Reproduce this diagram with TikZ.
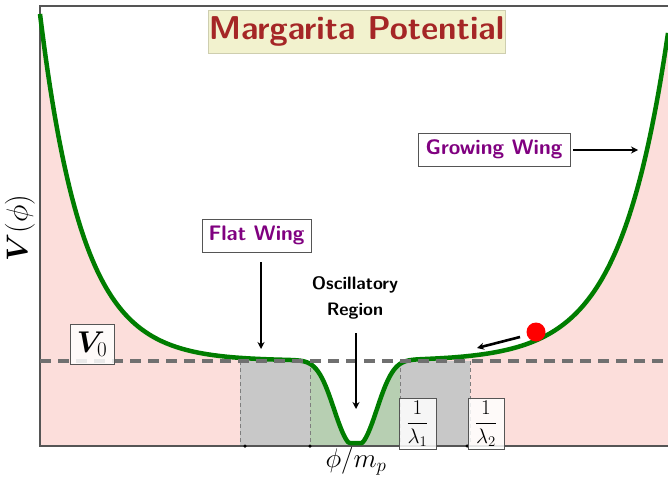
\RequirePackage{fix-cm}
\documentclass[tikz,border=0pt]{standalone}
\usepackage{fontspec}
\usepackage{amsmath,bm}
\usetikzlibrary{arrows.meta}
\definecolor{pinkc}{RGB}{252,222,219}
\definecolor{greenfill}{RGB}{183,207,178}
\definecolor{grayfill}{RGB}{200,200,200}
\definecolor{curvec}{RGB}{0,125,0}
\definecolor{dashc}{RGB}{112,112,112}
\definecolor{titlec}{RGB}{165,38,38}
\definecolor{titlebg}{RGB}{242,242,206}
\definecolor{wingc}{RGB}{128,0,128}
\definecolor{framec}{RGB}{85,85,85}
\begin{document}
\begin{tikzpicture}[x=1pt,y=-1pt,
  declare function={
    V(\t)=min(361-347*exp(-(\t-40)/42.5)-328*exp((\t-668)/47.7)+86*exp(max(-20,-pow((abs(\t-355.5)+0.01)/27.5,2.3))),443);
  },
  curve/.style={draw=curvec,line width=4.5pt,line join=round},
  vdash/.style={draw=dashc!90,line width=0.8pt,dash pattern=on 4pt off 3pt},
  hdash/.style={draw=dashc,line width=3.5pt,dash pattern=on 11pt off 7pt},
  wingbox/.style={draw=framec,fill=white,line width=0.8pt,text=wingc,font=\fontsize{21}{25}\sffamily\bfseries,inner sep=0pt},
  mathbox/.style={draw=framec,fill=white,fill opacity=0.85,text opacity=1,line width=0.8pt,inner sep=0pt},
  pointer/.style={draw=black,line width=2.6pt,-{Stealth[length=7pt,width=7pt]}},
  dot/.style={circle,fill=black,inner sep=0pt,minimum size=3.5pt}
]
\useasboundingbox (0,0) rectangle (668,476);
% fills
\fill[pinkc] plot[domain=40:668,samples=315] (\x,{V(\x)}) -- (668,446) -- (40,446) -- cycle;
\fill[greenfill] plot[domain=310:400,samples=91] (\x,{V(\x)}) -- (400,446) -- (310,446) -- cycle;
\fill[grayfill] (240,361) rectangle (310,446);
\fill[grayfill] (400,361) rectangle (470,446);
% vertical dashed lines
\foreach \xx/\nm in {240/a,310/b,400/c,470/d}{
  \coordinate (\nm top) at (\xx,361);
  \coordinate (\nm bot) at (\xx,446);
  \draw[vdash] (\nm top) -- (\nm bot);
}
% frame
\coordinate (fr1) at (668,6);
\coordinate (fr2) at (40,6);
\coordinate (fr3) at (40,446);
\coordinate (fr4) at (668,446);
\draw[framec,line width=1.1pt] (fr1) -- (fr2) -- (fr3) -- (fr4);
% curve
\draw[curve] plot[domain=40:668,samples=315] (\x,{V(\x)});
% horizontal dashed line
\coordinate (h1) at (40,361);
\coordinate (h2) at (668,361);
\draw[hdash] (h1) -- (h2);
% dots
\node[dot] (d1) at (245,446) {};
\node[dot] (d2) at (310,446) {};
\node[dot] (d3) at (467,446) {};
% title
\node[fill=titlebg,draw=titlebg!85!black,line width=0.8pt,text=titlec,
  font=\fontsize{33}{38}\sffamily\bfseries,minimum width=297pt,minimum height=43pt,inner sep=0pt]
  (title) at (356.5,31.5) {Margarita Potential};
% wing boxes
\node[wingbox,minimum width=109pt,minimum height=33pt] (flat) at (256.5,235.5) {Flat Wing};
\node[wingbox,minimum width=152pt,minimum height=33pt] (grow) at (494,149.5) {Growing Wing};
% oscillatory text
\node[align=center,font=\fontsize{18}{26}\sffamily\bfseries] (osc) at (355,298) {Oscillatory\\Region};
% arrows
\coordinate (fa1) at (261,262);
\coordinate (fa2) at (261,349);
\draw[pointer] (fa1) -- (fa2);
\coordinate (oa1) at (356,333);
\coordinate (oa2) at (356,409);
\draw[pointer] (oa1) -- (oa2);
\coordinate (ga1) at (573,150);
\coordinate (ga2) at (638,150);
\draw[pointer] (ga1) -- (ga2);
% ball
\node[circle,fill=red,minimum size=19pt,inner sep=0pt] (ball) at (536,332) {};
\coordinate (ba1) at (520,337);
\coordinate (ba2) at (477,348);
\draw[pointer] (ba1) -- (ba2);
% math boxes
\node[mathbox,minimum width=44pt,minimum height=40pt] (v0) at (92,344) {\fontsize{30}{34}\selectfont$\boldsymbol{V}_{0}$};
\node[mathbox,minimum width=37pt,minimum height=51pt] (l1) at (417.5,423.5) {\fontsize{21}{25}\selectfont$\dfrac{1}{\lambda_1}$};
\node[mathbox,minimum width=36pt,minimum height=51pt] (l2) at (486,423.5) {\fontsize{21}{25}\selectfont$\dfrac{1}{\lambda_2}$};
% axis labels
\node[rotate=90,font=\fontsize{30}{34}\selectfont] (ylab) at (20,228) {$\boldsymbol{V}(\phi)$};
\node[font=\fontsize{27}{31}\selectfont] (xlab) at (356,461) {$\phi/m_p$};
\end{tikzpicture}
\end{document}
